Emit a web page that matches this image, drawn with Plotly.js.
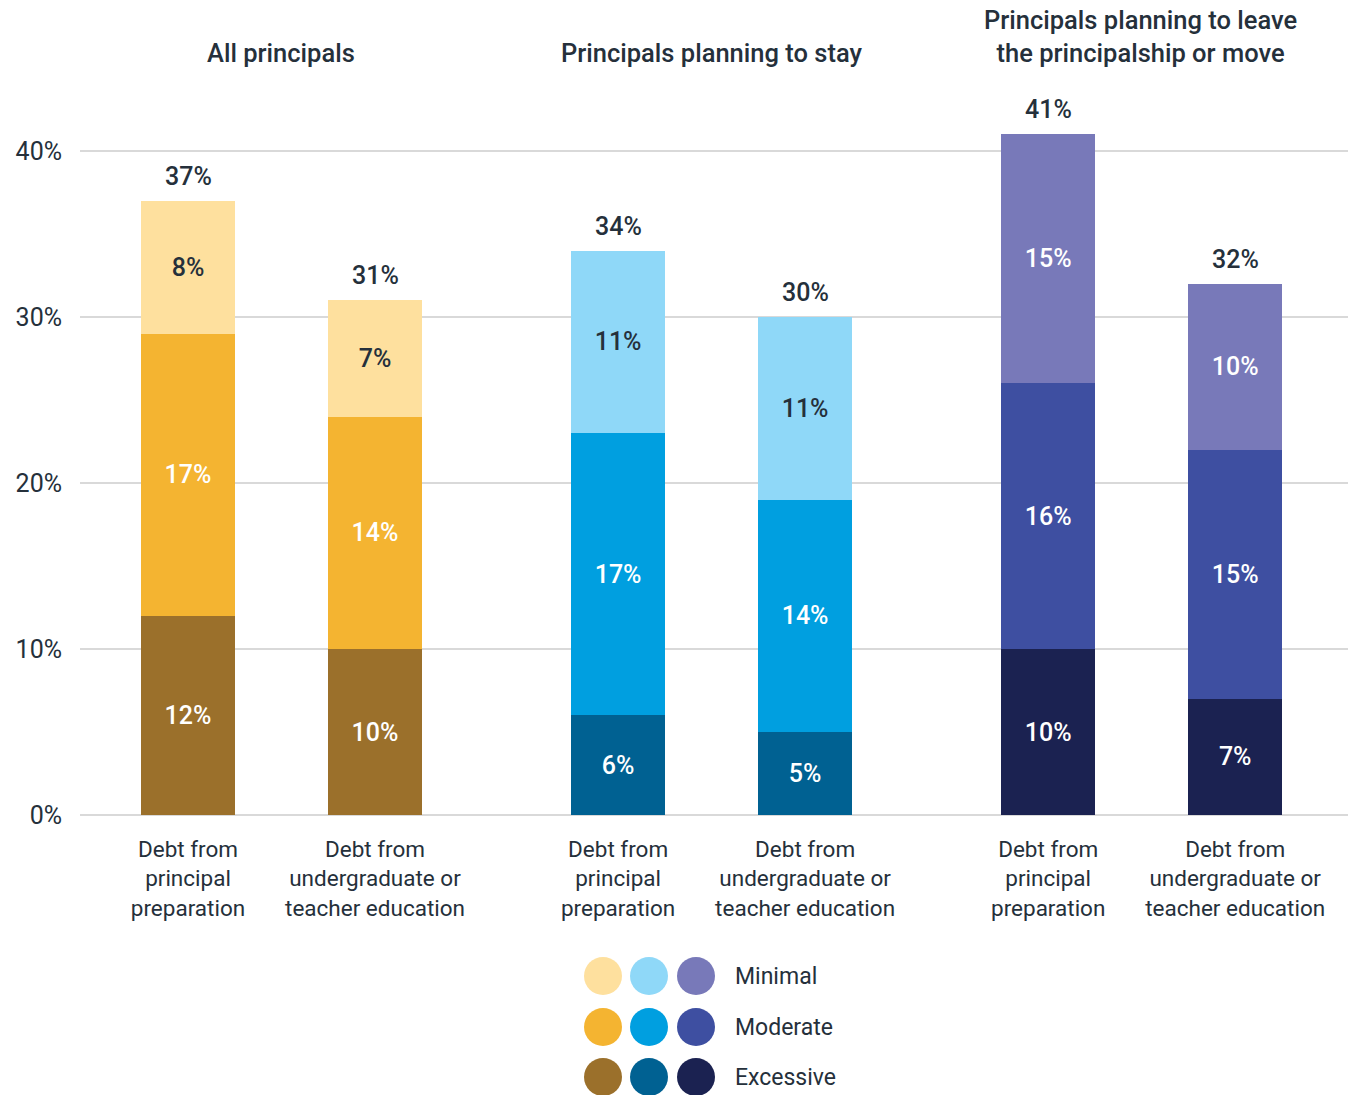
<!DOCTYPE html>
<html>
<head>
<meta charset="utf-8">
<script src="https://cdn.plot.ly/plotly-3.0.1.min.js"></script>
<style>html,body{margin:0;padding:0;background:#fff;}#chart{width:1348px;height:1095px;}</style>
</head>
<body>
<div id="chart"></div>
<script>
// ---- data ----
const groups = ["All principals", "Principals planning to stay", "Principals planning to leave<br>the principalship or move"];
const categories = ["Debt from<br>principal<br>preparation", "Debt from<br>undergraduate or<br>teacher education",
                    "Debt from<br>principal<br>preparation", "Debt from<br>undergraduate or<br>teacher education",
                    "Debt from<br>principal<br>preparation", "Debt from<br>undergraduate or<br>teacher education"];
const excessive = [12, 10, 6, 5, 10, 7];
const moderate  = [17, 14, 17, 14, 16, 15];
const minimal   = [8, 7, 11, 11, 15, 10];
const totals    = [37, 31, 34, 30, 41, 32];
const yTicks = [0, 10, 20, 30, 40];
const yTickLabels = ["0%", "10%", "20%", "30%", "40%"];
const levelNames = ["Minimal", "Moderate", "Excessive"];

// ---- layout / style ----
const xPos = [1, 2, 3.3, 4.3, 5.6, 6.6];
const colMin = ["#FEE09E", "#FEE09E", "#8FD8F8", "#8FD8F8", "#7879B9", "#7879B9"];
const colMod = ["#F4B431", "#F4B431", "#009FE0", "#009FE0", "#3E4FA1", "#3E4FA1"];
const colExc = ["#9B702B", "#9B702B", "#006192", "#006192", "#1B2251", "#1B2251"];
const dark = "#25303B";
const txtMin = [dark, dark, dark, dark, "#ffffff", "#ffffff"];
const FONT = "Roboto, 'DejaVu Sans', sans-serif";

function barTrace(vals, colors, textColors, name) {
  return {
    type: "bar", x: xPos, y: vals, name: name,
    width: 0.5,
    marker: {color: colors, line: {width: 0}},
    text: vals.map(v => v + "%"),
    textposition: "inside", insidetextanchor: "middle", textangle: 0,
    insidetextfont: {family: FONT, size: 25, color: textColors, weight: 500},
    constraintext: "none",
    hoverinfo: "skip", showlegend: false
  };
}

const traces = [
  barTrace(excessive, colExc, excessive.map(() => "#ffffff"), "Excessive"),
  barTrace(moderate, colMod, moderate.map(() => "#ffffff"), "Moderate"),
  barTrace(minimal, colMin, txtMin, "Minimal")
];

// plot area in pixels: x 80..1348, y 100..815
const L = 80, R = 1348, T = 100, B = 815;
const pxX = p => (p - L) / (R - L);
const pxY = p => (B - p) / (B - T);

const annotations = [];
// totals
totals.forEach((t, i) => annotations.push({
  x: xPos[i], y: t, xref: "x", yref: "y", text: t + "%", showarrow: false,
  yanchor: "bottom", yshift: 8, font: {family: FONT, size: 25, color: dark, weight: 500}
}));
// group titles
const groupCenters = [281, 711, 1140];
groups.forEach((g, i) => annotations.push({
  x: pxX(groupCenters[i]), y: pxY(70), xref: "paper", yref: "paper", text: g, showarrow: false,
  xanchor: "center", yanchor: "bottom", font: {family: FONT, size: 25.5, color: dark, weight: 500}
}));

// legend
const shapes = [];
const legCols = [603, 649, 696];
const legRows = [976, 1027, 1077];
const legColors = [colMin, colMod, colExc];
legRows.forEach((ry, r) => {
  legCols.forEach((cx, c) => {
    shapes.push({
      type: "circle", xref: "paper", yref: "paper", xsizemode: "pixel", ysizemode: "pixel",
      xanchor: pxX(cx), yanchor: pxY(ry), x0: -19, x1: 19, y0: -19, y1: 19,
      fillcolor: legColors[r][c * 2], line: {width: 0}
    });
  });
  annotations.push({
    x: pxX(733), y: pxY(ry), xref: "paper", yref: "paper", text: levelNames[r], showarrow: false,
    xanchor: "left", yanchor: "middle", font: {family: FONT, size: 23, color: dark}
  });
});

const layout = {
  width: 1348, height: 1095,
  margin: {l: L, r: 1348 - R, t: T, b: 1095 - B},
  paper_bgcolor: "#fff", plot_bgcolor: "#fff",
  barmode: "stack",
  font: {family: FONT, color: dark},
  xaxis: {
    range: [1 - 108 / 187, 1 + 1160 / 187],
    tickvals: xPos, ticktext: categories,
    ticks: "outside", ticklen: 14, tickcolor: "rgba(0,0,0,0)",
    tickfont: {family: FONT, size: 22.5, color: dark},
    showgrid: false, zeroline: false, showline: false, fixedrange: true
  },
  yaxis: {
    range: [0, (B - T) / 16.6],
    tickvals: yTicks, ticktext: yTickLabels,
    ticks: "outside", ticklen: 12, tickcolor: "rgba(0,0,0,0)",
    tickfont: {family: FONT, size: 25, color: dark},
    showgrid: true, gridcolor: "#D9D9D9", gridwidth: 1.3,
    zeroline: true, zerolinecolor: "#D9D9D9", zerolinewidth: 1.5,
    showline: false, fixedrange: true
  },
  annotations: annotations,
  shapes: shapes
};

Plotly.newPlot("chart", traces, layout, {displayModeBar: false, staticPlot: true});
</script>
</body>
</html>
